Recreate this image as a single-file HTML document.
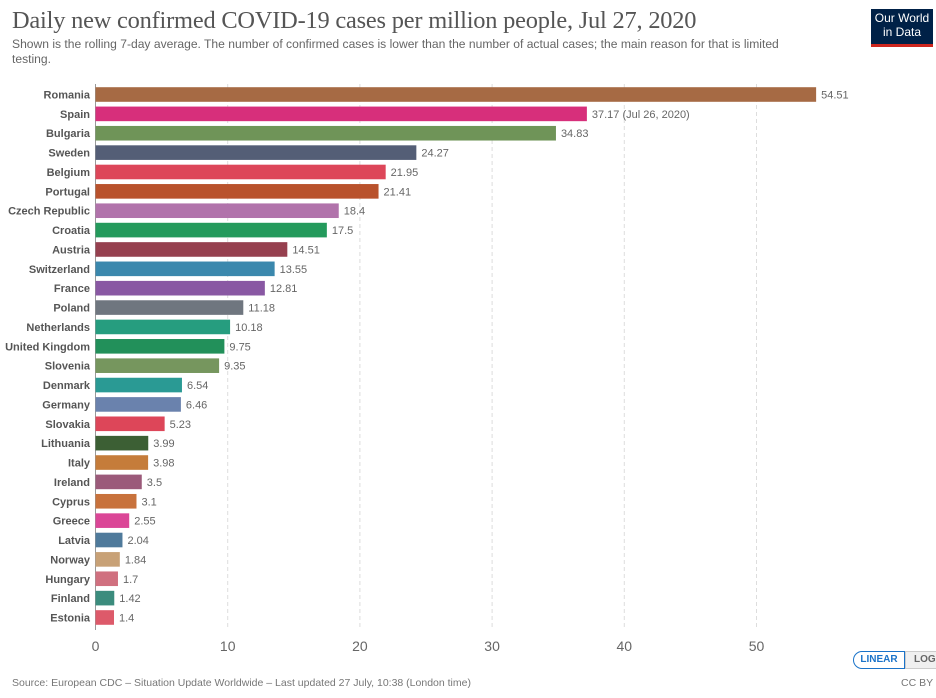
<!DOCTYPE html>
<html><head><meta charset="utf-8"><style>
body{margin:0;width:936px;height:698px;background:#fff;font-family:"Liberation Sans",sans-serif;overflow:hidden;position:relative}
.t{position:absolute}
</style></head><body>
<div class="t" style="left:12px;top:7px;font-family:'Liberation Serif',serif;font-size:24.4px;color:#555;letter-spacing:-0.2px">Daily new confirmed COVID-19 cases per million people, Jul 27, 2020</div>
<div class="t" style="left:12px;top:37px;width:790px;font-size:12.1px;line-height:15px;color:#666">Shown is the rolling 7-day average. The number of confirmed cases is lower than the number of actual cases; the main reason for that is limited testing.</div>
<div class="t" style="left:871px;top:9px;width:62px;height:33px;background:#002147;border-bottom:3px solid #ce261e;color:#fff;font-size:12px;line-height:14px;text-align:center;padding-top:2px">Our World<br>in Data</div>
<svg id="c" class="t" style="left:0;top:0" width="936" height="698"></svg>
<div class="t" style="left:853px;top:651px;width:50px;height:16px;border:1px solid #1a73c9;border-radius:9px 0 0 9px;color:#1a73c9;font-size:10px;font-weight:bold;text-align:center;line-height:16px">LINEAR</div>
<div class="t" style="left:905px;top:651px;width:40px;height:16px;border:1px solid #ccc;background:#f0f0f0;color:#666;font-size:10px;font-weight:bold;line-height:16px;padding-left:8px">LOG</div>
<div class="t" style="left:12px;top:677px;font-size:10.5px;color:#777">Source: European CDC – Situation Update Worldwide – Last updated 27 July, 10:38 (London time)</div>
<div class="t" style="left:901px;top:677px;font-size:10.5px;color:#777">CC BY</div>
<script>
const countries=["Romania","Spain","Bulgaria","Sweden","Belgium","Portugal","Czech Republic","Croatia","Austria","Switzerland","France","Poland","Netherlands","United Kingdom","Slovenia","Denmark","Germany","Slovakia","Lithuania","Italy","Ireland","Cyprus","Greece","Latvia","Norway","Hungary","Finland","Estonia"];
const values=[54.51,37.17,34.83,24.27,21.95,21.41,18.4,17.5,14.51,13.55,12.81,11.18,10.18,9.75,9.35,6.54,6.46,5.23,3.99,3.98,3.5,3.1,2.55,2.04,1.84,1.7,1.42,1.4];
const valueLabels=["54.51","37.17 (Jul 26, 2020)","34.83","24.27","21.95","21.41","18.4","17.5","14.51","13.55","12.81","11.18","10.18","9.75","9.35","6.54","6.46","5.23","3.99","3.98","3.5","3.1","2.55","2.04","1.84","1.7","1.42","1.4"];
const colors=["#a66a44","#d72f7b","#6f9458","#545e76","#dd4659","#b9522c","#b173ab","#249a5c","#96404f","#3b88ad","#8958a3","#6f767f","#269d7f","#22905a","#76965e","#2a9a94","#6a82ad","#dd4659","#3c5f34","#c57c3a","#9b5a7a","#c8723c","#db4697","#4f7a9b","#c8a176","#d0707f","#3b8c7d","#dd5a6a"];
const ticks=[0,10,20,30,40,50];
const svg=document.getElementById('c'),NS="http://www.w3.org/2000/svg";
const x=v=>95.5+v*13.22, y=i=>94.5+i*19.37;
function mk(t,a){const e=document.createElementNS(NS,t);for(const k in a)e.setAttribute(k,a[k]);svg.appendChild(e);return e;}
ticks.forEach(t=>{
 const l=mk('line',{x1:x(t),x2:x(t),y1:84,y2:630,stroke:t?'#ddd':'#999','stroke-dasharray':t?'4,3':'none'});
 
 
 const tx=mk('text',{x:x(t),y:651,'text-anchor':'middle','font-size':14,fill:'#666','font-family':'Liberation Sans'});
 tx.textContent=t;
 
 
});
countries.forEach((c,i)=>{
 const r=mk('rect',{x:x(0),y:y(i)-7.3,width:x(values[i])-x(0),height:14.6,fill:colors[i]});
 
 
 const lb=mk('text',{x:90,y:y(i)+4,'text-anchor':'end','font-size':11,'font-weight':'bold',fill:'#555','font-family':'Liberation Sans'});
 lb.textContent=c;
 
 
 const vl=mk('text',{x:x(values[i])+5,y:y(i)+4,'font-size':11,fill:'#666','font-family':'Liberation Sans'});
 vl.textContent=valueLabels[i];
 
 
});
</script>
</body></html>
